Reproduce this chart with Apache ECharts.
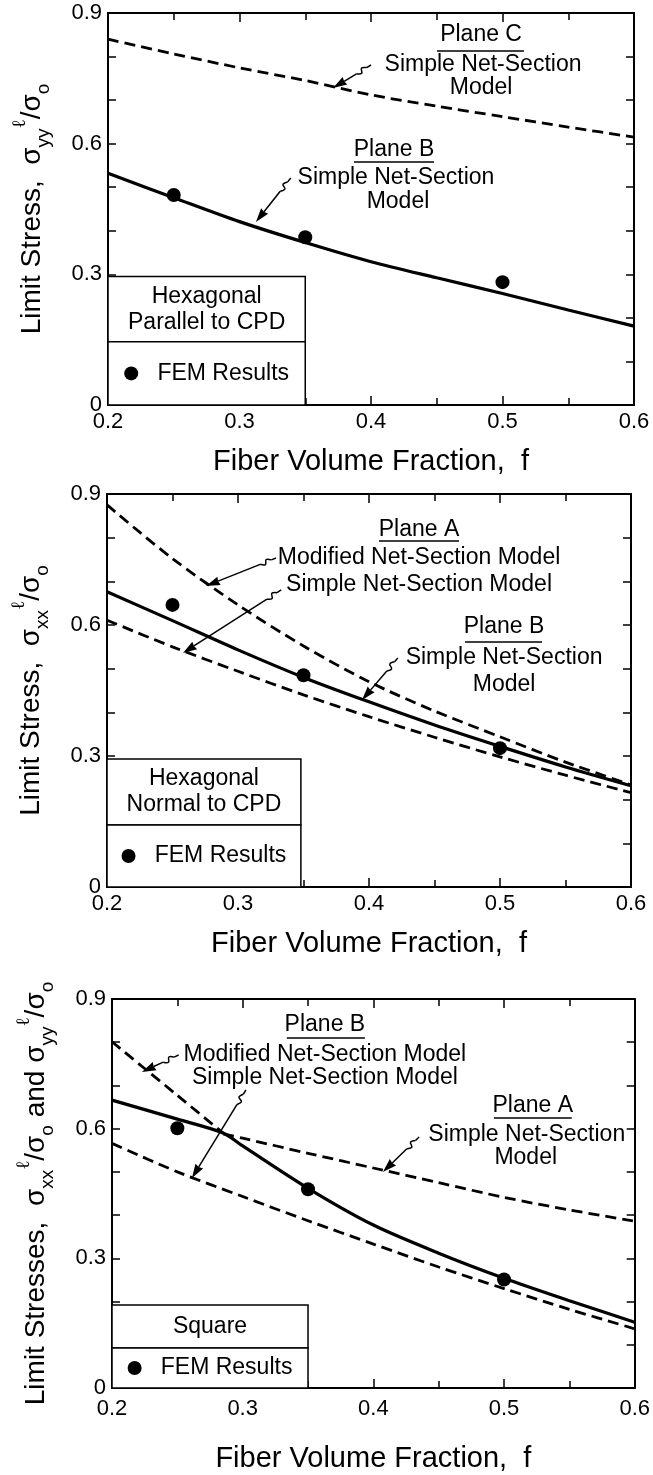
<!DOCTYPE html>
<html><head><meta charset="utf-8">
<script src="https://cdn.jsdelivr.net/npm/echarts@6/dist/echarts.min.js"></script>
<style>html,body{margin:0;padding:0;background:#fff}#c{width:653px;height:1475px}</style>
</head><body><div id="c"></div>
<script>
// ---------- data ----------
const fGrid = [0.2, 0.25, 0.3, 0.35, 0.4, 0.45, 0.5, 0.55, 0.6];
const xTickLabels = ['0.2', '0.3', '0.4', '0.5', '0.6'];
const yTickLabels = ['0', '0.3', '0.6', '0.9'];

// Panel 1: Hexagonal, parallel to CPD
const p1PlaneCSimple = [0.840, 0.806, 0.774, 0.745, 0.712, 0.686, 0.662, 0.638, 0.615];
const p1PlaneBSimple = [0.532, 0.476, 0.421, 0.373, 0.329, 0.292, 0.256, 0.218, 0.181];
const p1FemF = [0.25, 0.35, 0.5];
const p1Fem = [0.482, 0.385, 0.282];

// Panel 2: Hexagonal, normal to CPD
const p2PlaneAModified = [0.875, 0.752, 0.646, 0.552, 0.470, 0.403, 0.344, 0.286, 0.234];
const p2PlaneBSimple = [0.676, 0.610, 0.543, 0.480, 0.424, 0.371, 0.322, 0.275, 0.232];
const p2PlaneASimple = [0.611, 0.550, 0.494, 0.440, 0.390, 0.343, 0.298, 0.256, 0.216];
const p2FemF = [0.25, 0.35, 0.5];
const p2Fem = [0.646, 0.485, 0.318];

// Panel 3: Square
const p3GoverningF = [0.2, 0.25, 0.285, 0.3, 0.35, 0.4, 0.45, 0.5, 0.55, 0.6];
const p3Governing = [0.666, 0.622, 0.590, 0.560, 0.462, 0.377, 0.312, 0.254, 0.202, 0.152];
const p3PlaneBModifiedF = [0.2, 0.25, 0.285];
const p3PlaneBModified = [0.801, 0.677, 0.590];
const p3PlaneASimpleF = [0.285, 0.3, 0.35, 0.4, 0.45, 0.5, 0.55, 0.6];
const p3PlaneASimple = [0.588, 0.578, 0.543, 0.509, 0.475, 0.441, 0.412, 0.386];
const p3PlaneBSimple = [0.566, 0.500, 0.443, 0.387, 0.333, 0.280, 0.230, 0.182, 0.137];
const p3FemF = [0.25, 0.35, 0.5];
const p3Fem = [0.601, 0.460, 0.251];

// Legend boxes (data coords)
const boxTitles = ['Hexagonal\nParallel to CPD', 'Hexagonal\nNormal to CPD', 'Square'];
const boxF = [[0.2, 0.35], [0.2, 0.348], [0.2, 0.35]];
const boxV = [[0, 0.145, 0.295], [0, 0.142, 0.293], [0, 0.0925, 0.192]];

// Annotations (data coords)
const notes = [
  {g:0, text:'Plane C', at:[0.4837,0.8495], ul:[0.4502,0.5163,0.8128]},
  {g:0, text:'Simple Net-Section', at:[0.4852,0.7806]},
  {g:0, text:'Model', at:[0.4837,0.7278]},
  {g:0, text:'Plane B', at:[0.4175,0.5855], ul:[0.3871,0.4479,0.5579]},
  {g:0, text:'Simple Net-Section', at:[0.419,0.5212]},
  {g:0, text:'Model', at:[0.4205,0.466]},
  {g:1, text:'Plane A', at:[0.4382,0.8176], ul:[0.4076,0.4687,0.7924]},
  {g:1, text:'Modified Net-Section Model', at:[0.4382,0.7534]},
  {g:1, text:'Simple Net-Section Model', at:[0.4382,0.6916]},
  {g:1, text:'Plane B', at:[0.5031,0.5954], ul:[0.4733,0.5321,0.5611]},
  {g:1, text:'Simple Net-Section', at:[0.5031,0.5244]},
  {g:1, text:'Model', at:[0.5031,0.4626]},
  {g:2, text:'Plane B', at:[0.3629,0.8398], ul:[0.3338,0.3935,0.8098]},
  {g:2, text:'Modified Net-Section Model', at:[0.3629,0.7704]},
  {g:2, text:'Simple Net-Section Model', at:[0.3629,0.7172]},
  {g:2, text:'Plane A', at:[0.522,0.6524], ul:[0.4922,0.5518,0.6247]},
  {g:2, text:'Simple Net-Section', at:[0.5174,0.5853]},
  {g:2, text:'Model', at:[0.5166,0.5321]}
];
const arrows = [
  {g:0, from:[0.400,0.7806], to:[0.3711,0.7278]},
  {g:0, from:[0.339,0.5212], to:[0.3125,0.4202]},
  {g:1, from:[0.329,0.7534], to:[0.2756,0.6893]},
  {g:1, from:[0.333,0.6802], to:[0.258,0.5359]},
  {g:1, from:[0.422,0.5244], to:[0.3947,0.4282]},
  {g:2, from:[0.251,0.7704], to:[0.2229,0.7311]},
  {g:2, from:[0.3025,0.6895], to:[0.2612,0.4859]},
  {g:2, from:[0.435,0.5807], to:[0.4073,0.4997]}
];

// ---------- layout / style ----------
const FONT = '"Liberation Sans", Arial, Helvetica, sans-serif';
const grids = [
  {left:108, top:13, width:526, height:392},
  {left:107, top:494, width:524, height:393},
  {left:112, top:999, width:523, height:389}
];
const xLabelMargin = [6, 6, 10];
const xNameGap = [42, 42, 56];
const yNameGap = [55, 55, 55];
const yNames = [
  'Limit Stress,  σ{sub|yy}{sup|ℓ}/σ{sub|o}',
  'Limit Stress,  σ{sub|xx}{sup|ℓ}/σ{sub|o}',
  'Limit Stresses,  σ{sub|xx}{sup|ℓ}/σ{sub|o} and σ{sub|yy}{sup|ℓ}/σ{sub|o}'
];

function pairs(xs, ys) { return xs.map((x, i) => [x, ys[i]]); }
function xFmt(v) { const i = Math.round((v - 0.2) / 0.1); return xTickLabels[i] !== undefined ? xTickLabels[i] : ''; }
function yFmt(v) { const i = Math.round(v / 0.3); return yTickLabels[i] !== undefined ? yTickLabels[i] : ''; }

const black = '#000';
const xAxes = [], yAxes = [];
grids.forEach((g, gi) => {
  const common = {
    gridIndex: gi, type: 'value', min: 0.2, max: 0.6, interval: 0.1,
    axisLine: {show: true, onZero: false, lineStyle: {color: black, width: 2}},
    axisTick: {show: true, inside: true, length: 9, lineStyle: {color: black, width: 1.5}},
    minorTick: {show: true, splitNumber: 2, length: 7, lineStyle: {color: black, width: 1.5}},
    splitLine: {show: false}, minorSplitLine: {show: false}
  };
  xAxes.push(Object.assign({}, common, {
    position: 'bottom',
    axisLabel: {margin: xLabelMargin[gi], color: black, fontSize: 22, fontFamily: FONT, formatter: xFmt},
    name: 'Fiber Volume Fraction,  f', nameLocation: 'middle', nameGap: xNameGap[gi],
    nameTextStyle: {color: black, fontSize: 29, fontFamily: FONT}
  }));
  xAxes.push(Object.assign({}, common, {position: 'top', axisLabel: {show: false}}));
  const ycommon = {
    gridIndex: gi, type: 'value', min: 0, max: 0.9, interval: 0.3,
    axisLine: {show: true, onZero: false, lineStyle: {color: black, width: 2}},
    axisTick: {show: true, inside: true, length: 8, lineStyle: {color: black, width: 1.5}},
    minorTick: {show: true, splitNumber: 3, length: 8, lineStyle: {color: black, width: 1.5}},
    splitLine: {show: false}, minorSplitLine: {show: false}
  };
  yAxes.push(Object.assign({}, ycommon, {
    position: 'left',
    axisLabel: {margin: 6, color: black, fontSize: 22, fontFamily: FONT, formatter: yFmt},
    name: yNames[gi], nameLocation: 'middle', nameGap: yNameGap[gi], nameRotate: 90,
    nameTextStyle: {
      color: black, fontSize: 28, fontFamily: FONT, lineHeight: 42,
      rich: {
        sub: {fontSize: 19, lineHeight: 19, verticalAlign: 'bottom', color: black, fontFamily: FONT},
        sup: {fontSize: 19, lineHeight: 17, verticalAlign: 'top', color: black, fontFamily: '"DejaVu Serif", serif'}
      }
    }
  }));
  yAxes.push(Object.assign({}, ycommon, {position: 'right', axisLabel: {show: false}}));
});

function line(gi, data, dashed) {
  return {
    type: 'line', xAxisIndex: 2 * gi, yAxisIndex: 2 * gi, data: data,
    showSymbol: false, symbol: 'none', smooth: 0.3, silent: true, z: 3,
    lineStyle: {color: black, width: dashed ? 2.8 : 3.2, type: dashed ? [11, 6] : 'solid'}
  };
}
function fem(gi, fs, vs) {
  const bf = boxF[gi], bv = boxV[gi];
  const lab = {show: true, position: 'inside', color: black, fontFamily: FONT, fontSize: 23, lineHeight: 26};
  return {
    type: 'scatter', name: 'FEM Results', xAxisIndex: 2 * gi, yAxisIndex: 2 * gi,
    data: pairs(fs, vs), symbol: 'circle', symbolSize: 14, itemStyle: {color: black, opacity: 1}, z: 5,
    markArea: {
      silent: true,
      itemStyle: {color: '#fff', borderColor: black, borderWidth: 1.5, opacity: 1},
      data: [
        [{xAxis: bf[0], yAxis: bv[1], label: Object.assign({}, lab, {formatter: boxTitles[gi]})},
         {xAxis: bf[1], yAxis: bv[2]}],
        [{xAxis: bf[0], yAxis: bv[0], label: Object.assign({}, lab, {
            formatter: '{dot| }   FEM Results',
            rich: {dot: {width: 14, height: 14, borderRadius: 7, backgroundColor: black}}
          })},
         {xAxis: bf[1], yAxis: bv[1]}]
      ]
    }
  };
}

const series = [
  line(0, pairs(fGrid, p1PlaneCSimple), true),
  line(0, pairs(fGrid, p1PlaneBSimple), false),
  fem(0, p1FemF, p1Fem),
  line(1, pairs(fGrid, p2PlaneAModified), true),
  line(1, pairs(fGrid, p2PlaneBSimple), false),
  line(1, pairs(fGrid, p2PlaneASimple), true),
  fem(1, p2FemF, p2Fem),
  line(2, pairs(p3PlaneBModifiedF, p3PlaneBModified), true),
  line(2, pairs(p3PlaneASimpleF, p3PlaneASimple), true),
  line(2, pairs(p3GoverningF, p3Governing), false),
  line(2, pairs(fGrid, p3PlaneBSimple), true),
  fem(2, p3FemF, p3Fem)
];

const chart = echarts.init(document.getElementById('c'), null, {renderer: 'canvas'});
chart.setOption({
  animation: false,
  backgroundColor: '#fff',
  grid: grids,
  xAxis: xAxes,
  yAxis: yAxes,
  series: series
});

// ---------- annotations ----------
const gfx = [];
const P = (gi, pt) => chart.convertToPixel({gridIndex: gi}, pt);
notes.forEach(n => {
  const p = P(n.g, n.at);
  gfx.push({type: 'text', z: 100, silent: true, style: {
    text: n.text, x: p[0], y: p[1], fill: black, fontSize: 23, fontFamily: FONT,
    align: 'center', verticalAlign: 'middle', textAlign: 'center', textVerticalAlign: 'middle'
  }});
  if (n.ul) {
    const a = P(n.g, [n.ul[0], n.ul[2]]), b = P(n.g, [n.ul[1], n.ul[2]]);
    gfx.push({type: 'line', z: 100, silent: true, shape: {x1: a[0], y1: a[1], x2: b[0], y2: b[1]},
      style: {stroke: black, lineWidth: 1.6}});
  }
});
arrows.forEach(ar => {
  const s = P(ar.g, ar.from), t = P(ar.g, ar.to);
  const dx = t[0] - s[0], dy = t[1] - s[1];
  const L = Math.hypot(dx, dy), ux = dx / L, uy = dy / L, nx = -uy, ny = ux;
  const q = (a, b) => [s[0] + ux * a + nx * b, s[1] + uy * a + ny * b];
  const a1 = q(5, 0), a2 = q(17, 0), c1 = q(15, 8), c2 = q(7, -8);
  const base = q(L - 13, 0), w1 = q(L - 14, 4.5), w2 = q(L - 14, -4.5);
  gfx.push({type: 'line', z: 100, silent: true, shape: {x1: s[0], y1: s[1], x2: a1[0], y2: a1[1]}, style: {stroke: black, lineWidth: 1.5}});
  gfx.push({type: 'bezierCurve', z: 100, silent: true,
    shape: {x1: a1[0], y1: a1[1], x2: a2[0], y2: a2[1], cpx1: c1[0], cpy1: c1[1], cpx2: c2[0], cpy2: c2[1]},
    style: {stroke: black, lineWidth: 1.5, fill: null}});
  gfx.push({type: 'line', z: 100, silent: true, shape: {x1: a2[0], y1: a2[1], x2: base[0], y2: base[1]}, style: {stroke: black, lineWidth: 1.5}});
  gfx.push({type: 'polygon', z: 100, silent: true, shape: {points: [t, w1, base, w2]}, style: {fill: black}});
});
chart.setOption({graphic: gfx});
</script>
</body></html>
